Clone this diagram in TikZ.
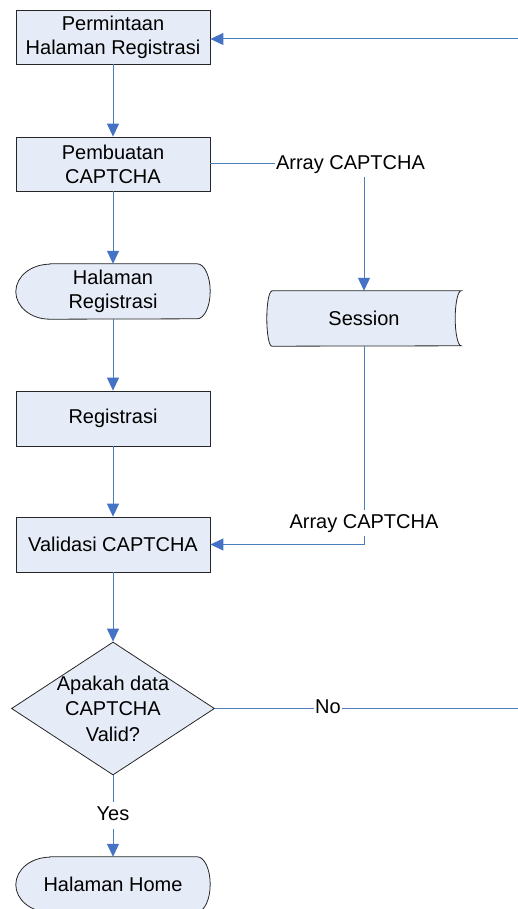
\documentclass[tikz,border=0pt]{standalone}
\usepackage{fontspec}
\setmainfont{Liberation Sans}
\usetikzlibrary{arrows.meta,shapes.geometric,calc,backgrounds}

\definecolor{flowblue}{HTML}{4A7EBB}
\definecolor{tipblue}{HTML}{4472C4}
\definecolor{boxfill}{HTML}{E6ECF7}
\definecolor{edge}{HTML}{262626}

\tikzset{
  base/.style={font=\fontsize{20}{24}\selectfont, align=center},
  procbox/.style={base, rectangle, draw=edge, line width=0.8pt, fill=boxfill,
    minimum width=194pt, minimum height=54pt, inner sep=0pt},
  frame/.style={base, rectangle, draw=none, minimum width=194pt,
    minimum height=55pt, inner sep=0pt},
  outline/.style={draw=edge, line width=0.8pt, fill=boxfill},
  decision/.style={diamond, draw=edge, line width=0.8pt, fill=boxfill,
    minimum width=203pt, minimum height=133pt, inner sep=0pt},
  flow/.style={draw=flowblue, line width=1pt,
    -{Triangle[length=13pt,width=12pt,fill=tipblue,color=tipblue]}},
  plain/.style={draw=flowblue, line width=1pt},
  lab/.style={base, fill=white, inner xsep=1.5pt, inner ysep=4pt,
    text height=14.5pt, text depth=4.2pt}
}

\begin{document}
\begin{tikzpicture}[x=1pt,y=-1pt]
\useasboundingbox (0,0) rectangle (518,909);

% process boxes
\node[procbox] (req) at (113,37) {Permintaan\\Halaman Registrasi};
\node[procbox] (gen) at (113,164) {Pembuatan\\CAPTCHA};
\node[frame]   (page) at (113,291.5) {Halaman\\Registrasi};
\node[frame]   (ses) at (364,318.5) {Session};
\node[procbox,minimum height=55pt] (reg) at (113,418.5) {Registrasi};
\node[procbox,minimum height=55pt] (val) at (113,544.5) {Validasi CAPTCHA};
\node[decision, label={[base,font=\fontsize{20}{25.5}\selectfont]center:Apakah data\\CAPTCHA\\Valid?}] (dec) at (113,708.5) {};
\node[frame]   (home) at (113,884.5) {Halaman Home};

% outlines of the display, stored-data and terminal shapes
\begin{scope}[on background layer]
  \draw[outline] ([xshift=34pt]page.north west) -- ([xshift=-13pt]page.north east)
    arc[start angle=90,end angle=-90,x radius=13pt,y radius=27.5pt]
    -- ([xshift=34pt]page.south west)
    arc[start angle=270,end angle=90,x radius=34pt,y radius=27.5pt] -- cycle;
  \draw[outline] ([xshift=5pt]ses.north west) -- (ses.north east)
    arc[start angle=90,end angle=270,x radius=6pt,y radius=27.5pt]
    -- ([xshift=5pt]ses.south west)
    arc[start angle=270,end angle=90,x radius=5pt,y radius=27.5pt] -- cycle;
  \draw[outline] ([xshift=34pt]home.north west) -- ([xshift=-13pt]home.north east)
    arc[start angle=90,end angle=-90,x radius=13pt,y radius=27.5pt]
    -- ([xshift=34pt]home.south west)
    arc[start angle=270,end angle=90,x radius=34pt,y radius=27.5pt] -- cycle;
\end{scope}

% loop ends at the right edge
\coordinate (back) at (518,39);
\coordinate (noend) at (518,708.5);

% main flow
\draw[flow] (req.south) -- (gen.north);
\draw[flow] (gen.south) -- (page.north);
\draw[flow] (page.south) -- (reg.north);
\draw[flow] (reg.south) -- (val.north);
\draw[flow] (val.south) -- (dec.north);
\draw[flow] (dec.south) -- (home.north);
\draw[flow] (back) -- (back -| req.east);

% session store
\draw[flow] (gen.east) -| (ses.north);
\draw[flow] (ses.south) |- (val.east);
\draw[plain] (dec.east) -- (noend);

% connector labels
\node[lab] (arr1) at (350.5,164) {Array CAPTCHA};
\node[lab] (arr2) at (364,523) {Array CAPTCHA};
\node[lab] (no) at (328,708.5) {No};
\node[lab] (yes) at (113,815.5) {Yes};
\end{tikzpicture}
\end{document}
